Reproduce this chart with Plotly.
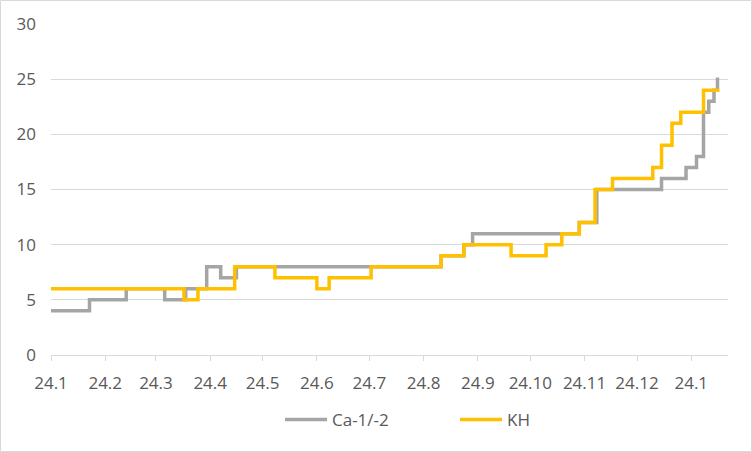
import plotly.graph_objects as go

# ---- data ----
ca_dates = ["2024-01-01", "2024-01-23", "2024-02-13", "2024-03-06", "2024-03-18",
            "2024-03-30", "2024-04-07", "2024-04-16", "2024-08-11", "2024-08-24",
            "2024-08-29", "2024-10-29", "2024-11-08", "2024-12-15", "2024-12-29",
            "2025-01-04", "2025-01-08", "2025-01-11", "2025-01-14", "2025-01-16",
            "2025-01-17"]
ca_values = [4, 5, 6, 5, 6, 8, 7, 8, 9, 10, 11, 12, 15, 16, 17, 18, 22, 23, 24, 25, 25]

kh_dates = ["2024-01-01", "2024-03-17", "2024-03-25", "2024-04-15", "2024-05-08",
            "2024-06-01", "2024-06-08", "2024-07-02", "2024-08-11", "2024-08-24",
            "2024-09-20", "2024-10-10", "2024-10-19", "2024-10-29", "2024-11-07",
            "2024-11-17", "2024-12-10", "2024-12-15", "2024-12-21", "2024-12-26",
            "2025-01-08", "2025-01-17"]
kh_values = [6, 5, 6, 8, 7, 6, 7, 8, 9, 10, 9, 10, 11, 12, 15, 16, 17, 19, 21, 22, 24, 24]

tick_dates = ["2024-01-01", "2024-02-01", "2024-03-01", "2024-04-01", "2024-05-01",
              "2024-06-01", "2024-07-01", "2024-08-01", "2024-09-01", "2024-10-01",
              "2024-11-01", "2024-12-01", "2025-01-01"]
tick_labels = ["24.1", "24.2", "24.3", "24.4", "24.5", "24.6", "24.7", "24.8",
               "24.9", "24.10", "24.11", "24.12", "24.1"]

series_names = ["Ca-1/-2", "KH"]
series_colors = ["#A5A5A5", "#FFC000"]

# ---- figure ----
W, H = 752, 452
ML, MR, MT, MB = 51, 24, 24, 97
PW, PH = W - ML - MR, H - MT - MB

fig = go.Figure()
fig.add_trace(go.Scatter(x=ca_dates, y=ca_values, mode="lines", name=series_names[0],
                         line=dict(color=series_colors[0], width=3.5, shape="hv")))
fig.add_trace(go.Scatter(x=kh_dates, y=kh_values, mode="lines", name=series_names[1],
                         line=dict(color=series_colors[1], width=3.5, shape="hv")))

font_family = "Open Sans, Liberation Sans, sans-serif"
fig.update_layout(
    width=W, height=H,
    margin=dict(l=ML, r=MR, t=MT, b=MB, autoexpand=False),
    paper_bgcolor="white", plot_bgcolor="white",
    font=dict(family=font_family, size=16, color="#595959"),
    showlegend=True,
    legend=dict(orientation="h", x=(280 - ML) / PW, xanchor="left", y=-65 / PH,
                yanchor="middle", entrywidth=118, entrywidthmode="pixels",
                itemwidth=42,
                font=dict(size=17, color="#595959"), bgcolor="rgba(0,0,0,0)"),
    xaxis=dict(type="date", range=["2024-01-01", "2025-01-22"], automargin=False,
               tickmode="array", tickvals=tick_dates, ticktext=tick_labels,
               showgrid=False, showline=True, linecolor="#D9D9D9", linewidth=1,
               ticks="outside", ticklen=5, tickcolor="#D9D9D9", tickwidth=1,
               ticklabelstandoff=8, zeroline=False,
               tickfont=dict(size=17, color="#595959")),
    yaxis=dict(range=[0, 30], dtick=5, showgrid=True, gridcolor="#D9D9D9", gridwidth=1,
               automargin=False,
               zeroline=False, showline=False, ticks="", ticklabelstandoff=14,
               tickfont=dict(size=17, color="#595959")),
    shapes=[dict(type="rect", xref="paper", yref="paper",
                 x0=(-ML + 0.5) / PW, x1=(PW + MR - 0.5) / PW,
                 y0=(-MB + 0.5) / PH, y1=(PH + MT - 0.5) / PH,
                 line=dict(color="#D9D9D9", width=1), layer="below")],
)

fig.write_html("out.html", config={"displayModeBar": False},
               post_script="document.body.style.margin='0';document.body.style.overflow='hidden';")
